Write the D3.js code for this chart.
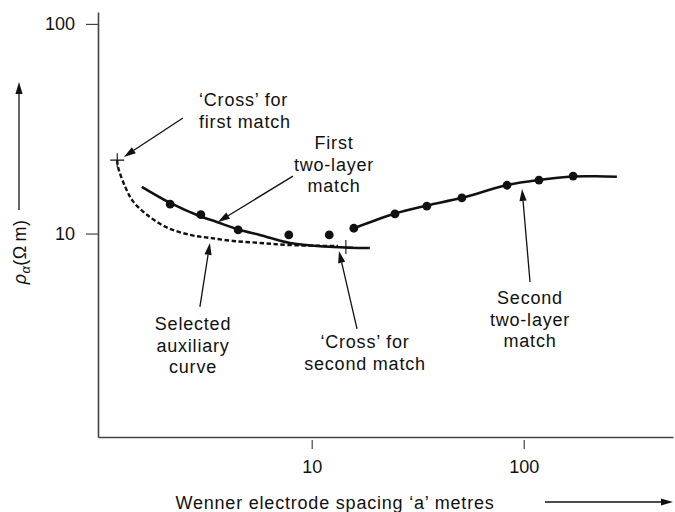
<!DOCTYPE html>
<html>
<head>
<meta charset="utf-8">
<script src="https://cdn.jsdelivr.net/npm/d3@7"></script>
<style>
  html, body { margin: 0; padding: 0; background: #fff; }
  svg { display: block; font-family: "Liberation Sans", Arial, Helvetica, sans-serif; }
</style>
</head>
<body>
<svg id="chart" width="675" height="512"></svg>
<script>
// measured points (Wenner spacing a in m, apparent resistivity in ohm m)
const fieldA   = [2.15, 3.0, 4.5, 7.8, 12.1, 15.8, 24.7, 34.9, 51.1, 83.4, 118, 171];
const fieldRho = [13.8, 12.3, 10.4, 9.85, 9.85, 10.6, 12.4, 13.5, 14.8, 17.0, 18.0, 18.8];

// first two-layer match curve
const firstA   = [1.58, 2.15, 2.97, 3.57, 4.59, 5.7, 7.9, 12.6, 18.8];
const firstRho = [16.7, 14.0, 12.1, 11.35, 10.4, 9.85, 9.02, 8.63, 8.53];

// selected auxiliary curve (dashed)
const auxA   = [1.21, 1.22, 1.32, 1.44, 1.67, 2.07, 2.67, 3.31, 4.26, 5.7, 7.9, 13.3];
const auxRho = [22.4, 20.8, 16.7, 14.2, 12.3, 10.7, 9.85, 9.53, 9.22, 9.02, 8.81, 8.72];

// second two-layer match curve
const secondA   = [15.8, 24.4, 35.0, 51.0, 83.0, 118, 171, 220, 275];
const secondRho = [10.6, 12.4, 13.6, 14.8, 17.0, 18.0, 18.7, 18.75, 18.65];

// the two "crosses"
const crossA   = [1.21, 14.5];
const crossRho = [22.4, 8.63];

const xTicks = [10, 100];
const yTicks = [10, 100];

// annotation arrows: tail -> tip, in data units
const arrows = [
  { from: [2.47, 35.6], to: [1.30, 23.2] },
  { from: [8.16, 18.8], to: [3.61, 11.36] },
  { from: [2.97, 4.47], to: [3.31, 9.02] },
  { from: [16.36, 3.51], to: [13.45, 8.26] },
  { from: [107.1, 5.88], to: [98.2, 16.32] }
];

const notes = [
  { lines: ["\u2018Cross\u2019 for", "first match"], x: 199, y: 106, anchor: "start" },
  { lines: ["First", "two-layer", "match"], x: 334, y: 149, anchor: "middle" },
  { lines: ["Selected", "auxiliary", "curve"], x: 193, y: 330, anchor: "middle" },
  { lines: ["\u2018Cross\u2019 for", "second match"], x: 365, y: 348, anchor: "middle" },
  { lines: ["Second", "two-layer", "match"], x: 530, y: 304, anchor: "middle" }
];

const svg = d3.select("#chart");
const ink = "#111";
const axisInk = "#444";
const spacing = 0.8; // the original lettering is set a little loose

const x = d3.scaleLog().domain([0.982, 506]).range([98, 673]);
const y = d3.scaleLog().domain([1.07, 114]).range([437, 12]);

// axes
const xAxis = svg.append("g")
    .attr("transform", `translate(0,${y.range()[0]})`)
    .call(d3.axisBottom(x).tickValues(xTicks).tickFormat(d3.format("d"))
        .tickSize(12).tickSizeOuter(0).tickPadding(11));
const yAxis = svg.append("g")
    .attr("transform", `translate(${x.range()[0]},0)`)
    .call(d3.axisLeft(y).tickValues(yTicks).tickFormat(d3.format("d"))
        .tickSize(12).tickSizeOuter(0).tickPadding(11));

[xAxis, yAxis].forEach(g => {
  g.attr("font-family", null).attr("font-size", 18);
  g.select(".domain").attr("stroke", axisInk).attr("stroke-width", 1.6);
  g.selectAll(".tick line").attr("stroke", axisInk).attr("stroke-width", 1.2);
  g.selectAll(".tick text").attr("fill", ink);
});
// x ticks only show below the axis line
xAxis.selectAll(".tick line").attr("y1", 3);

// curves
const line = (xs, ys) => d3.line()
    .x(i => x(xs[i]))
    .y(i => y(ys[i]))
    .curve(d3.curveCatmullRom.alpha(0.5))(d3.range(xs.length));

svg.append("path")
    .attr("d", line(auxA, auxRho))
    .attr("fill", "none")
    .attr("stroke", ink)
    .attr("stroke-width", 2.4)
    .attr("stroke-dasharray", "4.5,2.5");

svg.append("path")
    .attr("d", line(firstA, firstRho))
    .attr("fill", "none")
    .attr("stroke", ink)
    .attr("stroke-width", 2.6);

svg.append("path")
    .attr("d", line(secondA, secondRho))
    .attr("fill", "none")
    .attr("stroke", ink)
    .attr("stroke-width", 2.6);

// field data dots
svg.append("g")
  .selectAll("circle")
  .data(d3.range(fieldA.length))
  .join("circle")
    .attr("cx", i => x(fieldA[i]))
    .attr("cy", i => y(fieldRho[i]))
    .attr("r", 4.4)
    .attr("fill", ink);

// crosses
svg.append("g")
  .selectAll("path")
  .data(d3.range(crossA.length))
  .join("path")
    .attr("d", i => {
      const cx = x(crossA[i]), cy = y(crossRho[i]), s = 7;
      return `M${cx - s},${cy}H${cx + s}M${cx},${cy - s}V${cy + s}`;
    })
    .attr("stroke", ink)
    .attr("stroke-width", 1.1);

// arrows
function arrow(g, x1, y1, x2, y2) {
  const ang = Math.atan2(y2 - y1, x2 - x1);
  const len = 12, hw = 3.6;
  const bx = x2 - len * Math.cos(ang), by = y2 - len * Math.sin(ang);
  g.append("line")
      .attr("x1", x1).attr("y1", y1).attr("x2", bx).attr("y2", by)
      .attr("stroke", ink).attr("stroke-width", 1.3);
  g.append("path")
      .attr("d", `M${x2},${y2}L${bx + hw * Math.sin(ang)},${by - hw * Math.cos(ang)}` +
                 `L${bx - hw * Math.sin(ang)},${by + hw * Math.cos(ang)}Z`)
      .attr("fill", ink);
}
const arrowG = svg.append("g");
arrows.forEach(a => arrow(arrowG, x(a.from[0]), y(a.from[1]), x(a.to[0]), y(a.to[1])));

// annotation texts
notes.forEach(n => {
  const t = svg.append("text")
      .attr("x", n.x).attr("y", n.y)
      .attr("text-anchor", n.anchor)
      .attr("font-size", 18)
      .attr("letter-spacing", spacing)
      .attr("fill", ink);
  n.lines.forEach((s, i) => {
    t.append("tspan").attr("x", n.x).attr("dy", i ? 21.5 : 0).text(s);
  });
});

// axis titles with direction arrows
svg.append("text")
    .attr("x", 335).attr("y", 509)
    .attr("text-anchor", "middle")
    .attr("font-size", 18)
    .attr("letter-spacing", spacing)
    .attr("fill", ink)
    .text("Wenner electrode spacing \u2018a\u2019 metres");
arrow(svg, 545, 502, 673, 502);

const yt = svg.append("text")
    .attr("transform", "translate(26,252) rotate(-90)")
    .attr("text-anchor", "middle")
    .attr("font-size", 18)
    .attr("letter-spacing", 0.4)
    .attr("fill", ink);
yt.append("tspan").attr("font-style", "italic").text("\u03c1");
yt.append("tspan").attr("font-style", "italic").attr("font-size", 13).attr("dy", 4).text("\u03b1");
yt.append("tspan").attr("dy", -4).text("(\u03a9\u2009m)");
arrow(svg, 19, 210, 19, 82);
</script>
</body>
</html>
